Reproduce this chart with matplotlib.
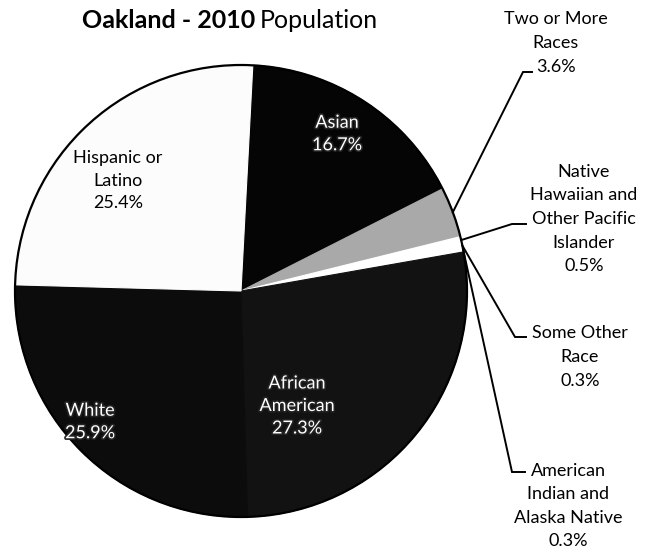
import numpy as np
import matplotlib
matplotlib.use("Agg")
import matplotlib.pyplot as plt
import matplotlib.patheffects as pe

W, H = 648, 553

labels = ["Asian", "Two or More Races", "Native Hawaiian and Other Pacific Islander",
          "Some Other Race", "American Indian and Alaska Native",
          "African American", "White", "Hispanic or Latino"]
shares = [16.7, 3.6, 0.5, 0.3, 0.3, 27.3, 25.9, 25.4]
colors = ["#050505", "#a9a9a9", "#ffffff", "#ffffff", "#ffffff",
          "#121212", "#0c0c0c", "#fcfcfc"]

# labels drawn inside the slices: (text, x, y centre of block in image px, colour)
inside = {
    "Asian": ("Asian\n16.7%", 337, 134, "white"),
    "Hispanic or Latino": ("Hispanic or\nLatino\n25.4%", 118, 181, "black"),
    "White": ("White\n25.9%", 90, 422, "white"),
    "African American": ("African\nAmerican\n27.3%", 297, 406, "white"),
}
# labels outside with leader lines: (text, x centre, y centre, elbow x0, x1, y)
outside = {
    "Two or More Races": ("Two or More\nRaces\n3.6%", 556, 43, 523, 532, 72),
    "Native Hawaiian and Other Pacific Islander":
        ("Native\nHawaiian and\nOther Pacific\nIslander\n0.5%", 584, 219, 512, 526, 224),
    "Some Other Race": ("Some Other\nRace\n0.3%", 580, 357, 515, 526, 337),
    "American Indian and Alaska Native":
        ("American\nIndian and\nAlaska Native\n0.3%", 568, 506, 512, 525, 472),
}

CX, CY, R = 241, 291, 226
FONT = "Lato"


def Y(y):
    return H - y


fig = plt.figure(figsize=(W / 100, H / 100), dpi=100)
ax = fig.add_axes([0, 0, 1, 1])

wedges, _ = ax.pie(shares, colors=colors, startangle=87, counterclock=False,
                   center=(CX, Y(CY)), radius=R,
                   wedgeprops=dict(linewidth=0.8))
for w, c in zip(wedges, colors):
    w.set_edgecolor(c)
ax.add_patch(plt.Circle((CX, Y(CY)), R, fill=False, edgecolor="black", lw=1.6))
ax.set_xlim(0, W)
ax.set_ylim(0, H)
ax.set_aspect("equal")
ax.axis("off")

for name, (txt, x, y, c) in inside.items():
    t = ax.text(x, Y(y), txt, ha="center", va="center", color=c, fontsize=13,
                family=FONT, linespacing=1.5)
    if c == "white":
        t.set_path_effects([pe.withStroke(linewidth=2.4, foreground="#222222")])

for name, (txt, x, y, ex0, ex1, ey) in outside.items():
    w = wedges[labels.index(name)]
    mid = np.deg2rad((w.theta1 + w.theta2) / 2)
    px, py = CX + R * np.cos(mid), Y(CY) + R * np.sin(mid)
    ax.plot([px, ex0, ex1], [py, Y(ey), Y(ey)], color="black", lw=1.4,
            solid_joinstyle="miter")
    ax.text(x, Y(y), txt, ha="center", va="center", fontsize=13, family=FONT,
            linespacing=1.58)

# title: bold part then regular part right after it
t1 = ax.text(82, Y(21), "Oakland - 2010", ha="left", va="center", fontsize=18,
             fontweight="bold", family=FONT)
fig.canvas.draw()
bb = t1.get_window_extent()
ax.text(bb.x1 + 5, Y(21), "Population", ha="left", va="center", fontsize=18,
        family=FONT)

fig.savefig("out.png", dpi=100, facecolor="white")
